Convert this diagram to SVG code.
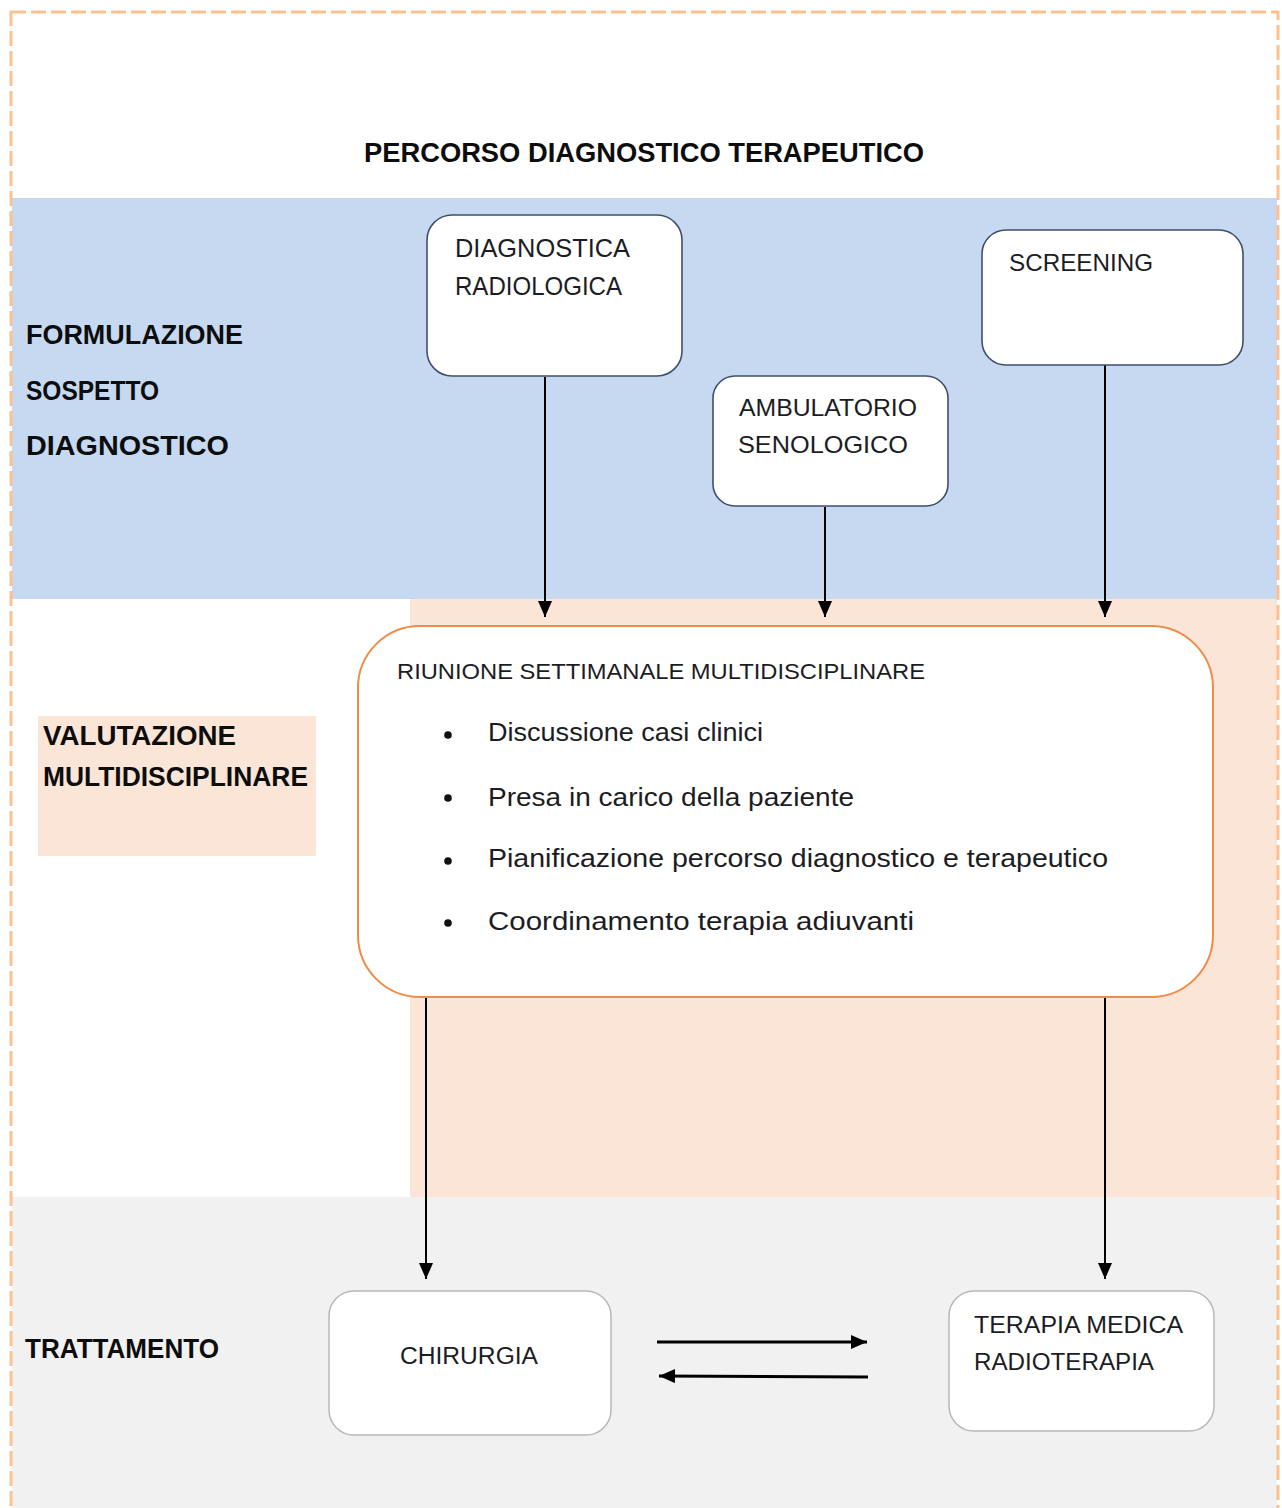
<svg xmlns="http://www.w3.org/2000/svg" width="1282" height="1508" viewBox="0 0 1282 1508">
<style>
  text { font-family: "Liberation Sans", Arial, sans-serif; fill: #1c1c24; }
  .lbl { font-weight: bold; font-size: 27px; fill: #0d0d0d; }
  .nt { font-size: 24px; }
  .bl { font-size: 25px; }
  .bnode { fill: #ffffff; stroke: #3f4f6b; stroke-width: 1.6; }
  .gnode { fill: #ffffff; stroke: #b8b8b8; stroke-width: 1.5; }
  .onode { fill: #ffffff; stroke: #ee8c48; stroke-width: 2; }
  .conn { stroke: #000; stroke-width: 2; fill: none; marker-end: url(#ah); }
  .conn2 { stroke: #000; stroke-width: 3; fill: none; marker-end: url(#ah2); }
</style>
<defs>
  <marker id="ah" markerUnits="userSpaceOnUse" markerWidth="16" markerHeight="14" refX="16" refY="7" orient="auto">
    <path d="M0,0 L16,7 L0,14 z" fill="#000"/>
  </marker>
  <marker id="ah2" markerUnits="userSpaceOnUse" markerWidth="16" markerHeight="14" refX="16" refY="7" orient="auto">
    <path d="M0,0 L16,7 L0,14 z" fill="#000"/>
  </marker>
</defs>

<!-- background bands -->
<rect x="0" y="0" width="1282" height="1508" fill="#ffffff"/>
<rect x="12" y="198" width="1265" height="401" fill="#c6d9f0"/>
<rect x="410" y="599" width="867" height="598" fill="#fbe5d6"/>
<rect x="12" y="1197" width="1265" height="311" fill="#f1f1f1"/>
<rect x="38" y="716" width="278" height="140" fill="#fbe5d6"/>
<rect x="11" y="12" width="1267" height="1510" fill="none" stroke="#fbc190" stroke-width="3" stroke-dasharray="15,5"/>

<!-- title and lane labels -->
<text class="lbl" x="364" y="162" textLength="560" lengthAdjust="spacingAndGlyphs">PERCORSO DIAGNOSTICO TERAPEUTICO</text>
<text class="lbl" x="26" y="344" textLength="217" lengthAdjust="spacingAndGlyphs">FORMULAZIONE</text>
<text class="lbl" x="26" y="400" textLength="133" lengthAdjust="spacingAndGlyphs">SOSPETTO</text>
<text class="lbl" x="26" y="455" textLength="203" lengthAdjust="spacingAndGlyphs">DIAGNOSTICO</text>
<text class="lbl" x="43" y="745" textLength="193" lengthAdjust="spacingAndGlyphs">VALUTAZIONE</text>
<text class="lbl" x="43" y="786" textLength="265" lengthAdjust="spacingAndGlyphs">MULTIDISCIPLINARE</text>
<text class="lbl" x="25" y="1358" textLength="194" lengthAdjust="spacingAndGlyphs">TRATTAMENTO</text>

<!-- connectors -->
<g id="connectors">
  <line class="conn" x1="545" y1="377" x2="545" y2="617"/>
  <line class="conn" x1="825" y1="507" x2="825" y2="617"/>
  <line class="conn" x1="1105" y1="365" x2="1105" y2="617"/>
  <line class="conn" x1="426" y1="997" x2="426" y2="1279"/>
  <line class="conn" x1="1105" y1="997" x2="1105" y2="1279"/>
  <line class="conn2" x1="657" y1="1342" x2="867" y2="1342"/>
  <line class="conn2" x1="868" y1="1377" x2="659" y2="1376"/>
</g>

<!-- nodes -->
<g id="node-diagnostica">
  <rect class="bnode" x="427" y="215" width="255" height="161" rx="25"/>
  <text class="nt" x="455" y="257" style="font-size:25px" textLength="175" lengthAdjust="spacingAndGlyphs">DIAGNOSTICA</text>
  <text class="nt" x="455" y="295" style="font-size:25px" textLength="167" lengthAdjust="spacingAndGlyphs">RADIOLOGICA</text>
</g>
<g id="node-ambulatorio">
  <rect class="bnode" x="713" y="376" width="235" height="130" rx="22"/>
  <text class="nt" x="739" y="416" textLength="178" lengthAdjust="spacingAndGlyphs">AMBULATORIO</text>
  <text class="nt" x="738" y="453" textLength="170" lengthAdjust="spacingAndGlyphs">SENOLOGICO</text>
</g>
<g id="node-screening">
  <rect class="bnode" x="982" y="230" width="261" height="135" rx="24"/>
  <text class="nt" x="1009" y="271" textLength="144" lengthAdjust="spacingAndGlyphs">SCREENING</text>
</g>
<g id="node-riunione">
  <rect class="onode" x="358" y="626" width="855" height="371" rx="62"/>
  <text x="397" y="679" style="font-size:22px" textLength="528" lengthAdjust="spacingAndGlyphs">RIUNIONE SETTIMANALE MULTIDISCIPLINARE</text>
  <circle cx="448" cy="735" r="3.8" fill="#111"/>
  <circle cx="448" cy="798" r="3.8" fill="#111"/>
  <circle cx="448" cy="861" r="3.8" fill="#111"/>
  <circle cx="448" cy="923" r="3.8" fill="#111"/>
  <text class="bl" x="488" y="741" textLength="275" lengthAdjust="spacingAndGlyphs">Discussione casi clinici</text>
  <text class="bl" x="488" y="806" textLength="366" lengthAdjust="spacingAndGlyphs">Presa in carico della paziente</text>
  <text class="bl" x="488" y="867" textLength="620" lengthAdjust="spacingAndGlyphs">Pianificazione percorso diagnostico e terapeutico</text>
  <text class="bl" x="488" y="930" textLength="426" lengthAdjust="spacingAndGlyphs">Coordinamento terapia adiuvanti</text>
</g>
<g id="node-chirurgia">
  <rect class="gnode" x="329" y="1291" width="282" height="144" rx="25"/>
  <text x="400" y="1364" style="font-size:23px" textLength="138" lengthAdjust="spacingAndGlyphs">CHIRURGIA</text>
</g>
<g id="node-terapia">
  <rect class="gnode" x="949" y="1291" width="265" height="140" rx="25"/>
  <text x="974" y="1333" style="font-size:23px" textLength="209" lengthAdjust="spacingAndGlyphs">TERAPIA MEDICA</text>
  <text x="974" y="1370" style="font-size:23px" textLength="180" lengthAdjust="spacingAndGlyphs">RADIOTERAPIA</text>
</g>
</svg>
